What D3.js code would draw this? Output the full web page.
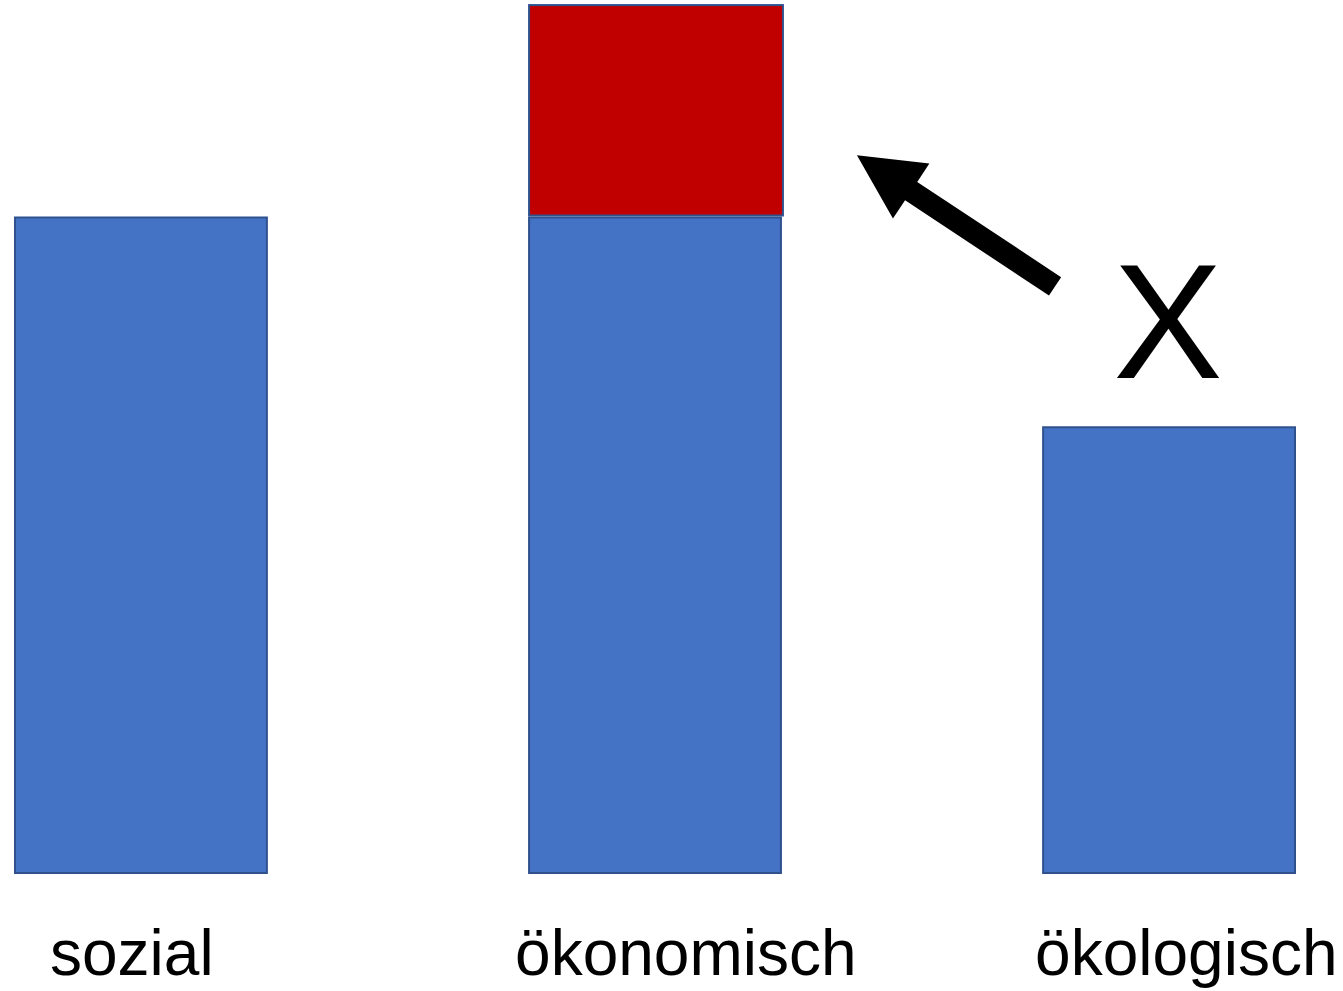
<!DOCTYPE html>
<html><head><meta charset="utf-8">
<script src="https://cdn.jsdelivr.net/npm/d3@7"></script>
<style>html,body{margin:0;padding:0;background:#fff;overflow:hidden}</style>
</head><body>
<svg id="c" width="1343" height="991"></svg>
<script>
const categories = ["sozial", "ökonomisch", "ökologisch"];
const baseValues = [100, 100, 68];
const extraValues = [0, 32.1, 0];
const labelOffsets = [35, -14, -8];

const svg = d3.select("#c");
const x = d3.scaleBand().domain(categories).range([15, 1295]).paddingInner(0.51).paddingOuter(0);
const y = d3.scaleLinear().domain([0, 100]).range([873, 217.5]);

const blue = "#4472C4", red = "#C00000", edge = "#2F528F";

svg.selectAll("rect.base").data(categories).join("rect")
  .attr("class", "base")
  .attr("x", d => x(d)).attr("width", x.bandwidth())
  .attr("y", (d, i) => y(baseValues[i])).attr("height", (d, i) => y(0) - y(baseValues[i]))
  .attr("fill", blue).attr("stroke", edge).attr("stroke-width", 2);

svg.selectAll("rect.extra").data(categories.filter((d, i) => extraValues[i] > 0)).join("rect")
  .attr("class", "extra")
  .attr("x", d => x(d)).attr("width", x.bandwidth() + 2)
  .attr("y", d => { const i = categories.indexOf(d); return y(baseValues[i] + extraValues[i]) - 2; })
  .attr("height", d => { const i = categories.indexOf(d); return y(baseValues[i]) - y(baseValues[i] + extraValues[i]); })
  .attr("fill", red).attr("stroke", edge).attr("stroke-width", 2);

svg.selectAll("text.lab").data(categories).join("text")
  .attr("class", "lab")
  .attr("x", (d, i) => x(d) + labelOffsets[i]).attr("y", 975)
  .attr("font-family", "Liberation Sans, Arial, sans-serif").attr("font-size", 64)
  .attr("fill", "#000").text(d => d);

// arrow from ökologisch toward the red (extra) block
const ecoX = x("ökologisch") + x.bandwidth() / 2;
const S = [ecoX - 114, y(89.5)];
const T = [x("ökonomisch") + x.bandwidth() + 76, y(109.5)];
const dx = T[0] - S[0], dy = T[1] - S[1], L = Math.hypot(dx, dy);
const ux = dx / L, uy = dy / L, nx = -uy, ny = ux;
const hw = 11, headLen = 65, headHW = 33;
const B = [T[0] - ux * headLen, T[1] - uy * headLen];
const pts = [
  [S[0] + nx * hw, S[1] + ny * hw],
  [B[0] + nx * hw, B[1] + ny * hw],
  [B[0] + nx * headHW, B[1] + ny * headHW],
  T,
  [B[0] - nx * headHW, B[1] - ny * headHW],
  [B[0] - nx * hw, B[1] - ny * hw],
  [S[0] - nx * hw, S[1] - ny * hw]
];
svg.append("path").attr("d", d3.line()(pts) + "Z").attr("fill", "#000");

svg.append("text").attr("x", ecoX - 1).attr("y", 378)
  .attr("text-anchor", "middle")
  .attr("font-family", "Liberation Sans, Arial, sans-serif").attr("font-size", 164)
  .attr("fill", "#000").text("X");
</script>
</body></html>
